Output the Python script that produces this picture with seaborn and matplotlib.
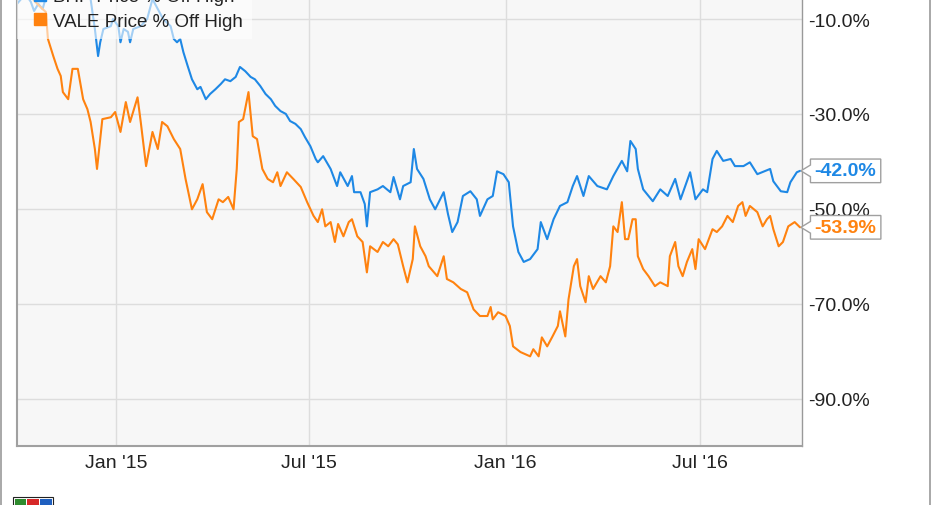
import matplotlib
matplotlib.use("Agg")
import matplotlib.pyplot as plt
import seaborn as sns
import pandas as pd
from matplotlib.path import Path
from matplotlib.lines import Line2D
from matplotlib.patches import Rectangle

# ---------------- data ----------------
series_names = ["BHP Price % Off High", "VALE Price % Off High"]
series_colors = ["#1e88e5", "#ff820f"]

bhp_dates = ["2014-09-30","2014-10-08","2014-10-13","2014-10-16","2014-10-20","2014-10-24","2014-10-28","2014-11-05","2014-11-14","2014-11-24",
             "2014-12-03","2014-12-08","2014-12-12","2014-12-15","2014-12-17","2014-12-20","2014-12-27","2014-12-29","2015-01-03","2015-01-05",
             "2015-01-08","2015-01-12","2015-01-14","2015-01-17","2015-01-24","2015-01-30","2015-02-04","2015-02-09","2015-02-14","2015-02-21",
             "2015-02-24","2015-02-27","2015-03-02","2015-03-05","2015-03-09","2015-03-13","2015-03-18","2015-03-21","2015-03-26","2015-03-30",
             "2015-04-04","2015-04-09","2015-04-13","2015-04-18","2015-04-23","2015-04-27","2015-05-02","2015-05-07","2015-05-11","2015-05-16",
             "2015-05-21","2015-05-26","2015-05-30","2015-06-04","2015-06-09","2015-06-13","2015-06-18","2015-06-23","2015-06-27","2015-07-02",
             "2015-07-07","2015-07-09","2015-07-14","2015-07-21","2015-07-27","2015-07-30","2015-08-06","2015-08-10","2015-08-12","2015-08-18",
             "2015-08-22","2015-08-24","2015-08-27","2015-09-03","2015-09-08","2015-09-15","2015-09-18","2015-09-24","2015-09-27","2015-10-04",
             "2015-10-07","2015-10-10","2015-10-16","2015-10-22","2015-10-27","2015-11-04","2015-11-08","2015-11-12","2015-11-17","2015-11-22",
             "2015-11-29","2015-12-05","2015-12-08","2015-12-15","2015-12-20","2015-12-24","2015-12-30","2016-01-04","2016-01-08","2016-01-13",
             "2016-01-18","2016-01-24","2016-01-31","2016-02-03","2016-02-09","2016-02-15","2016-02-21","2016-02-28","2016-03-04","2016-03-08",
             "2016-03-14","2016-03-19","2016-03-27","2016-04-05","2016-04-11","2016-04-19","2016-04-24","2016-04-27","2016-05-02","2016-05-04",
             "2016-05-09","2016-05-18","2016-05-25","2016-06-01","2016-06-08","2016-06-13","2016-06-22","2016-06-27","2016-07-04","2016-07-08",
             "2016-07-13","2016-07-17","2016-07-23","2016-07-30","2016-08-03","2016-08-11","2016-08-17","2016-08-24","2016-09-05","2016-09-08",
             "2016-09-15","2016-09-21","2016-09-24","2016-09-30","2016-10-03"]
bhp_values = [-6.8,-4.7,-6.4,-8.3,-6.8,-7.9,-4.7,-2.6,-3.7,-1.6,
              -4.1,-5.8,-12.1,-17.8,-14.9,-12.1,-11.5,-10.0,-11.5,-14.9,
              -12.1,-12.7,-14.9,-12.1,-11.5,-10.0,-5.8,-7.9,-10.0,-11.5,
              -14.2,-14.9,-14.2,-17.0,-19.9,-22.7,-24.8,-24.3,-26.9,-25.8,
              -24.8,-23.7,-22.7,-23.1,-22.2,-20.1,-21.0,-22.2,-22.7,-24.1,
              -25.8,-26.9,-28.3,-29.4,-30.0,-31.5,-32.1,-33.2,-34.9,-36.8,
              -39.5,-40.2,-38.9,-41.6,-45.2,-42.3,-45.2,-43.1,-46.5,-46.5,
              -49.0,-53.7,-46.5,-45.9,-45.2,-46.5,-43.3,-48.0,-45.2,-44.4,
              -37.4,-41.6,-43.7,-48.0,-50.1,-46.5,-51.1,-54.9,-52.8,-47.3,
              -46.3,-48.0,-51.5,-48.0,-47.3,-42.1,-42.7,-44.4,-53.7,-59.1,
              -61.2,-60.6,-58.5,-52.8,-56.4,-52.2,-49.4,-48.6,-45.2,-43.1,
              -47.3,-43.1,-45.2,-45.9,-43.1,-39.9,-42.1,-35.7,-37.4,-41.6,
              -45.9,-48.4,-45.9,-47.3,-43.7,-48.0,-42.3,-48.0,-45.9,-46.5,
              -39.5,-37.8,-39.9,-39.5,-41.0,-41.0,-40.2,-42.7,-41.6,-44.2,
              -46.3,-46.5,-44.4,-42.3,-42.0]

vale_dates = ["2014-09-30","2014-10-05","2014-10-11","2014-10-15","2014-10-19","2014-10-24","2014-10-27","2014-10-29","2014-11-03","2014-11-07",
              "2014-11-10","2014-11-12","2014-11-17","2014-11-21","2014-11-26","2014-12-01","2014-12-05","2014-12-08","2014-12-12","2014-12-14",
              "2014-12-19","2014-12-27","2014-12-31","2015-01-05","2015-01-10","2015-01-14","2015-01-21","2015-01-24","2015-01-29","2015-02-04",
              "2015-02-09","2015-02-13","2015-02-18","2015-02-24","2015-03-02","2015-03-07","2015-03-13","2015-03-18","2015-03-23","2015-03-27",
              "2015-04-01","2015-04-07","2015-04-11","2015-04-16","2015-04-21","2015-04-24","2015-04-26","2015-04-30","2015-05-05","2015-05-07",
              "2015-05-09","2015-05-13","2015-05-18","2015-05-23","2015-05-28","2015-06-01","2015-06-04","2015-06-10","2015-06-16","2015-06-23",
              "2015-06-29","2015-07-05","2015-07-09","2015-07-13","2015-07-16","2015-07-21","2015-07-25","2015-07-28","2015-08-02","2015-08-07",
              "2015-08-10","2015-08-15","2015-08-20","2015-08-24","2015-08-27","2015-09-03","2015-09-08","2015-09-13","2015-09-18","2015-09-22",
              "2015-09-27","2015-10-01","2015-10-06","2015-10-08","2015-10-13","2015-10-18","2015-10-21","2015-10-29","2015-11-04","2015-11-07",
              "2015-11-13","2015-11-20","2015-11-26","2015-12-02","2015-12-08","2015-12-15","2015-12-18","2015-12-20","2015-12-25","2016-01-01",
              "2016-01-05","2016-01-08","2016-01-15","2016-01-24","2016-01-27","2016-02-01","2016-02-04","2016-02-09","2016-02-14","2016-02-19",
              "2016-02-21","2016-02-26","2016-02-29","2016-03-05","2016-03-08","2016-03-11","2016-03-16","2016-03-19","2016-03-23","2016-03-30",
              "2016-04-04","2016-04-08","2016-04-11","2016-04-15","2016-04-19","2016-04-22","2016-04-25","2016-04-29","2016-05-02","2016-05-04",
              "2016-05-09","2016-05-14","2016-05-20","2016-05-25","2016-06-01","2016-06-03","2016-06-08","2016-06-11","2016-06-15","2016-06-19",
              "2016-06-24","2016-06-27","2016-06-30","2016-07-06","2016-07-13","2016-07-17","2016-07-22","2016-07-27","2016-08-01","2016-08-06",
              "2016-08-10","2016-08-13","2016-08-17","2016-08-24","2016-08-29","2016-09-02","2016-09-05","2016-09-08","2016-09-13","2016-09-17",
              "2016-09-22","2016-09-28","2016-10-03"]
vale_values = [-3.7,-1.6,-4.7,-5.8,-6.8,-7.9,-8.5,-14.2,-17.8,-20.5,
               -22.0,-25.4,-26.9,-20.5,-20.5,-26.9,-29.0,-31.7,-37.4,-41.6,
               -31.1,-30.7,-29.6,-33.8,-27.5,-31.7,-26.5,-31.7,-41.0,-33.8,
               -37.4,-31.7,-32.6,-35.3,-37.4,-43.7,-50.1,-48.0,-44.8,-50.7,
               -52.2,-48.0,-48.6,-47.5,-50.1,-41.6,-31.7,-31.1,-25.4,-30.0,
               -34.7,-35.3,-41.6,-43.7,-44.4,-42.3,-45.2,-42.3,-43.7,-45.4,
               -48.6,-51.5,-52.8,-50.1,-53.7,-52.8,-57.0,-53.2,-55.8,-52.8,
               -52.2,-55.8,-57.0,-63.4,-57.9,-59.1,-57.0,-57.9,-56.4,-57.5,
               -62.1,-65.5,-60.6,-53.7,-57.9,-60.0,-62.1,-64.2,-60.0,-64.8,
               -65.5,-66.9,-67.6,-71.2,-72.6,-72.6,-70.7,-73.3,-71.8,-72.6,
               -74.7,-79.0,-80.2,-81.1,-79.6,-81.1,-77.1,-79.0,-76.9,-74.7,
               -71.6,-76.9,-69.1,-62.1,-60.6,-66.3,-69.7,-64.2,-66.9,-64.2,
               -65.5,-62.1,-53.7,-54.9,-48.6,-56.4,-56.4,-52.2,-52.2,-60.0,
               -62.7,-64.2,-66.3,-65.5,-66.3,-60.0,-57.0,-62.1,-64.2,-61.2,
               -58.5,-62.7,-56.4,-58.5,-54.3,-54.9,-53.7,-51.5,-52.8,-49.4,
               -48.6,-51.5,-49.4,-50.7,-53.7,-52.2,-51.5,-54.3,-57.9,-57.0,
               -53.7,-52.8,-53.9]

end_labels = ["-42.0%", "-53.9%"]

y_ticks = [-90, -70, -50, -30, -10]
y_tick_labels = ["-90.0%", "-70.0%", "-50.0%", "-30.0%", "-10.0%"]
x_tick_dates = ["2015-01-01", "2015-07-01", "2016-01-01", "2016-07-01"]
x_tick_labels = ["Jan '15", "Jul '15", "Jan '16", "Jul '16"]

# ---------------- frame ----------------
df = pd.concat([
    pd.DataFrame({"date": pd.to_datetime(bhp_dates), "pct": bhp_values, "series": series_names[0]}),
    pd.DataFrame({"date": pd.to_datetime(vale_dates), "pct": vale_values, "series": series_names[1]}),
], ignore_index=True)

sns.set_theme(style="white")
plt.rcParams["font.family"] = ["Liberation Sans", "DejaVu Sans"]

W, H = 931, 506
fig = plt.figure(figsize=(W / 100, H / 100), dpi=100)
fig.patch.set_facecolor("white")
ax = fig.add_axes([17 / W, (H - 447) / H, (801.6 - 17) / W, (447 + 27.4) / H])
ax.set_facecolor("#f7f7f7")

sns.lineplot(data=df, x="date", y="pct", hue="series", hue_order=series_names,
             palette=series_colors, linewidth=1.5, legend=False, ax=ax, estimator=None)

ax.set_xlim(pd.Timestamp("2014-09-30"), pd.Timestamp("2016-10-04 12:00"))
ax.set_ylim(-100, 0)
ax.set_xlabel("")
ax.set_ylabel("")

ax.yaxis.tick_right()
ax.set_yticks(y_ticks)
ax.set_yticklabels(y_tick_labels)
ax.set_xticks(pd.to_datetime(x_tick_dates))
ax.set_xticklabels(x_tick_labels)
ax.tick_params(axis="y", length=0, pad=5, labelsize=14, labelcolor="#222222")
ax.tick_params(axis="x", length=0, pad=6, labelsize=14, labelcolor="#222222")

ax.grid(True, color="#dddddd", linewidth=1.0)
ax.set_axisbelow(True)
for side in ["left", "bottom"]:
    ax.spines[side].set_color("#a0a0a0")
    ax.spines[side].set_linewidth(1.5)
ax.spines["right"].set_color("#999999")
ax.spines["right"].set_linewidth(1.0)
ax.spines["top"].set_visible(False)


def tag_box(x0, y0, width, height, mutation_size):
    px = 0.22 * mutation_size
    py = 0.17 * mutation_size
    tip = 0.49 * mutation_size
    half = 0.3 * mutation_size
    xl, xr = x0 - px, x0 + width + px
    yb, yt = y0 - py, y0 + height + py
    ym = (yb + yt) / 2
    return Path([(xl, yb), (xr, yb), (xr, yt), (xl, yt), (xl, ym + half),
                 (xl - tip, ym), (xl, ym - half), (xl, yb), (xl, yb)], closed=True)


for dates, vals, color, lab in [(bhp_dates, bhp_values, series_colors[0], end_labels[0]),
                                (vale_dates, vale_values, series_colors[1], end_labels[1])]:
    ax.annotate(lab, xy=(pd.Timestamp(dates[-1]), vals[-1]), xytext=(10.6, 0),
                textcoords="offset points", ha="left", va="center", fontsize=14,
                fontweight="bold", color=color,
                bbox=dict(boxstyle=tag_box, fc="white", ec="#a0a0a0", lw=1.0))

handles = [Line2D([0], [0], marker="s", color=c, linestyle="none", markersize=9)
           for c in series_colors]
leg = fig.legend(handles, series_names, loc="lower left",
                 bbox_to_anchor=(17 / W, 1 - 40 / H), borderaxespad=0,
                 fontsize=13.5, frameon=True, fancybox=False, framealpha=0.6,
                 facecolor="white", edgecolor="none", borderpad=0.5,
                 handlelength=1.45, handletextpad=-0.05, labelspacing=0.38)
for t in leg.get_texts():
    t.set_color("#222222")

# outer frame sides
fig.add_artist(Line2D([1.2 / W, 1.2 / W], [0, 1], color="#999999", lw=1.2))
fig.add_artist(Line2D([929.8 / W, 929.8 / W], [0, 1], color="#999999", lw=1.2))

# small logo mark
fig.add_artist(Rectangle((13 / W, 0), 40 / W, 8 / H, fc="white", ec="#222222", lw=0.8))
for i, c in enumerate(["#2e8b2e", "#d62828", "#1f5fbf"]):
    fig.add_artist(Rectangle(((14.5 + i * 12.8) / W, 0), 11.5 / W, 6 / H, fc=c, ec="none"))

fig.savefig("out.png", dpi=100)
